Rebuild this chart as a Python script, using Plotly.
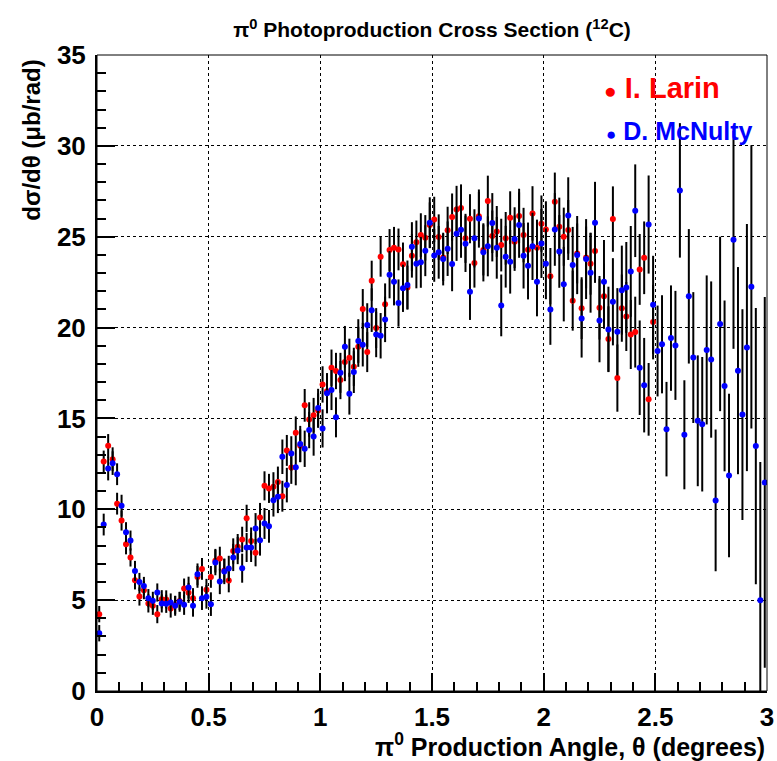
import plotly.graph_objects as go

# Bin centres (degrees), 0.02 deg bins
angle = [
    0.01, 0.03, 0.05, 0.07, 0.09, 0.11, 0.13, 0.15, 0.17, 0.19,
    0.21, 0.23, 0.25, 0.27, 0.29, 0.31, 0.33, 0.35, 0.37, 0.39,
    0.41, 0.43, 0.45, 0.47, 0.49, 0.51, 0.53, 0.55, 0.57, 0.59,
    0.61, 0.63, 0.65, 0.67, 0.69, 0.71, 0.73, 0.75, 0.77, 0.79,
    0.81, 0.83, 0.85, 0.87, 0.89, 0.91, 0.93, 0.95, 0.97, 0.99,
    1.01, 1.03, 1.05, 1.07, 1.09, 1.11, 1.13, 1.15, 1.17, 1.19,
    1.21, 1.23, 1.25, 1.27, 1.29, 1.31, 1.33, 1.35, 1.37, 1.39,
    1.41, 1.43, 1.45, 1.47, 1.49, 1.51, 1.53, 1.55, 1.57, 1.59,
    1.61, 1.63, 1.65, 1.67, 1.69, 1.71, 1.73, 1.75, 1.77, 1.79,
    1.81, 1.83, 1.85, 1.87, 1.89, 1.91, 1.93, 1.95, 1.97, 1.99,
    2.01, 2.03, 2.05, 2.07, 2.09, 2.11, 2.13, 2.15, 2.17, 2.19,
    2.21, 2.23, 2.25, 2.27, 2.29, 2.31, 2.33, 2.35, 2.37, 2.39,
    2.41, 2.43, 2.45, 2.47, 2.49, 2.51, 2.53, 2.55, 2.57, 2.59,
    2.61, 2.63, 2.65, 2.67, 2.69, 2.71, 2.73, 2.75, 2.77, 2.79,
    2.81, 2.83, 2.85, 2.87, 2.89, 2.91, 2.93, 2.95, 2.97, 2.99,
]

larin = [
    4.23, 12.63, 13.49, 12.76, 10.31, 9.38, 8.07, 7.35, 6.09, 5.20,
    5.55, 4.82, 4.69, 4.23, 5.05, 5.04, 4.54, 4.73, 4.95, 5.64,
    5.40, 5.11, 6.28, 6.72, 5.57, 6.28, 7.17, 7.29, 6.63, 6.08,
    7.70, 7.94, 8.34, 9.50, 8.25, 7.61, 9.55, 11.29, 11.15, 11.24,
    11.50, 10.72, 13.24, 12.30, 14.21, 13.50, 15.72, 14.94, 15.18, 15.43,
    16.87, 16.49, 17.79, 17.61, 17.11, 18.10, 18.34, 17.84, 18.94, 21.02,
    18.65, 22.58, 19.97, 23.90, 21.28, 24.27, 24.39, 24.30, 23.48, 22.21,
    23.95, 24.69, 25.09, 24.94, 25.64, 25.95, 24.98, 23.86, 25.35, 26.08,
    26.50, 26.58, 24.91, 25.99, 23.55, 26.12, 24.27, 26.96, 25.04, 25.29,
    24.54, 24.91, 26.05, 24.72, 26.14, 25.09, 24.28, 26.28, 24.39, 25.72,
    25.40, 22.83, 26.93, 25.55, 25.00, 25.37, 21.48, 24.08, 21.07, 23.86,
    23.51, 24.21, 21.09, 21.73, 19.37, 25.97, 17.22, 21.07, 20.61, 19.62,
    19.75, 23.20, 23.84, 16.05, 20.30,
]
larin_err = [
    0.45, 0.6, 0.65, 0.65, 0.6, 0.55, 0.55, 0.5, 0.5, 0.5,
    0.5, 0.5, 0.5, 0.5, 0.5, 0.5, 0.5, 0.5, 0.5, 0.55,
    0.55, 0.55, 0.6, 0.6, 0.6, 0.6, 0.65, 0.65, 0.65, 0.65,
    0.7, 0.7, 0.7, 0.75, 0.75, 0.75, 0.8, 0.8, 0.8, 0.8,
    0.85, 0.85, 0.85, 0.9, 0.9, 0.9, 0.9, 0.95, 0.95, 0.95,
    1.0, 1.0, 1.0, 1.0, 1.05, 1.05, 1.05, 1.05, 1.1, 1.1,
    1.1, 1.1, 1.1, 1.1, 1.15, 1.15, 1.15, 1.15, 1.2, 1.2,
    1.2, 1.2, 1.2, 1.25, 1.25, 1.25, 1.25, 1.3, 1.3, 1.3,
    1.3, 1.3, 1.35, 1.35, 1.35, 1.35, 1.4, 1.4, 1.4, 1.4,
    1.45, 1.45, 1.45, 1.45, 1.5, 1.5, 1.5, 1.5, 1.55, 1.55,
    1.55, 1.55, 1.6, 1.6, 1.6, 1.65, 1.65, 1.65, 1.7, 1.7,
    1.7, 1.75, 1.75, 1.8, 1.8, 1.8, 1.85, 1.85, 1.9, 1.9,
    1.95, 1.95, 2.0, 2.0, 2.05,
]

mcnulty = [
    3.18, 9.16, 12.24, 12.54, 11.93, 10.20, 8.74, 8.28, 6.61, 6.00,
    5.78, 5.11, 4.96, 5.42, 4.82, 4.80, 4.87, 4.69, 4.91, 4.74,
    5.69, 4.69, 6.42, 5.11, 5.18, 4.78, 7.07, 6.03, 6.58, 6.74,
    7.35, 7.73, 6.76, 7.90, 7.90, 8.94, 8.30, 9.22, 9.06, 10.50,
    10.69, 12.89, 11.33, 13.07, 12.32, 13.59, 13.33, 14.36, 14.00, 15.58,
    14.45, 16.38, 16.56, 15.06, 17.51, 18.94, 16.36, 17.55, 19.26, 19.06,
    20.14, 20.96, 19.62, 19.55, 20.45, 22.91, 22.52, 21.35, 22.16, 22.34,
    24.45, 23.51, 23.59, 24.23, 25.77, 23.97, 24.14, 23.77, 24.34, 23.50,
    25.17, 25.39, 24.61, 21.97, 24.91, 26.00, 24.14, 24.47, 25.75, 24.39,
    21.22, 23.90, 23.62, 24.87, 25.64, 23.95, 23.40, 24.47, 22.52, 24.63,
    23.51, 21.00, 25.40, 24.19, 22.39, 26.17, 23.44, 23.99, 20.50, 23.77,
    23.02, 25.77, 20.39, 22.52, 19.90, 21.42, 19.77, 22.06, 22.21, 23.09,
    26.43, 17.79, 16.83, 25.67, 21.25, 18.71, 19.08, 14.41, 19.42, 19.02,
    27.55, 14.10, 21.72, 18.35, 14.87, 14.68, 18.77, 18.24, 10.49, 20.20,
    16.79, 11.86, 24.83, 17.63, 15.21, 18.90, 22.24, 13.48, 5.00, 11.48,
]
mcnulty_err = [
    0.45, 0.6, 0.65, 0.65, 0.6, 0.6, 0.55, 0.55, 0.55, 0.5,
    0.5, 0.5, 0.5, 0.5, 0.5, 0.5, 0.5, 0.55, 0.55, 0.55,
    0.6, 0.6, 0.6, 0.65, 0.65, 0.65, 0.7, 0.7, 0.7, 0.7,
    0.75, 0.75, 0.8, 0.8, 0.8, 0.85, 0.85, 0.85, 0.9, 0.9,
    0.9, 0.95, 0.95, 0.95, 1.0, 1.0, 1.0, 1.0, 1.05, 1.05,
    1.05, 1.1, 1.1, 1.1, 1.1, 1.15, 1.15, 1.15, 1.2, 1.2,
    1.2, 1.2, 1.25, 1.25, 1.25, 1.3, 1.3, 1.3, 1.3, 1.35,
    1.35, 1.35, 1.4, 1.4, 1.4, 1.45, 1.45, 1.45, 1.5, 1.5,
    1.5, 1.55, 1.55, 1.55, 1.6, 1.6, 1.6, 1.65, 1.65, 1.7,
    1.7, 1.7, 1.75, 1.75, 1.8, 1.8, 1.85, 1.85, 1.9, 1.9,
    1.95, 1.95, 2.0, 2.0, 2.05, 2.1, 2.1, 2.15, 2.15, 2.2,
    2.2, 2.25, 2.3, 2.3, 2.35, 2.4, 2.4, 2.45, 2.5, 2.5,
    2.55, 2.6, 2.6, 2.7, 2.7, 2.5, 2.7, 2.6, 2.9, 3.0,
    3.7, 3.0, 3.7, 3.6, 3.6, 3.7, 4.1, 4.3, 3.9, 4.8,
    4.7, 4.5, 6.0, 5.7, 5.8, 6.8, 7.8, 7.6, 7.6, 10.2,
]

x_ticks = [0, 0.5, 1, 1.5, 2, 2.5, 3]
x_ticklabels = ["0", "0.5", "1", "1.5", "2", "2.5", "3"]
y_ticks = [0, 5, 10, 15, 20, 25, 30, 35]
y_ticklabels = ["0", "5", "10", "15", "20", "25", "30", "35"]

FONT = "Liberation Sans, Arial, sans-serif"

fig = go.Figure()
fig.add_trace(go.Scatter(
    x=angle[:len(larin)], y=larin, mode="markers", name="I. Larin",
    marker=dict(color="#ff0000", size=6, line=dict(width=0)),
    error_y=dict(type="data", array=larin_err, color="black", thickness=2, width=0),
))
fig.add_trace(go.Scatter(
    x=angle, y=mcnulty, mode="markers", name="D. McNulty",
    marker=dict(color="#0000ff", size=6, line=dict(width=0)),
    error_y=dict(type="data", array=mcnulty_err, color="black", thickness=2, width=0),
))

axis_common = dict(
    showline=True, linecolor="black", linewidth=2, mirror=False,
    ticks="inside", ticklen=18, tickwidth=2, tickcolor="black",
    showgrid=True, gridcolor="black", griddash="dot", gridwidth=1,
    zeroline=False, automargin=False,
    tickfont=dict(family=FONT, size=26, color="black", weight="bold"),
)

fig.update_xaxes(
    range=[0, 3], tickvals=x_ticks, ticktext=x_ticklabels,
    minor=dict(ticks="inside", ticklen=9, tickwidth=2, tickcolor="black", dtick=0.1, showgrid=False),
    ticklabelstandoff=2,
    **axis_common,
)
fig.update_yaxes(
    range=[0, 35], tickvals=y_ticks, ticktext=y_ticklabels,
    minor=dict(ticks="inside", ticklen=9, tickwidth=2, tickcolor="black", dtick=1, showgrid=False),
    ticklabelstandoff=4,
    **axis_common,
)

fig.add_shape(type="rect", xref="paper", yref="paper", x0=0, y0=0, x1=1, y1=1,
              line=dict(color="black", width=1), layer="above")

fig.update_layout(
    width=777, height=761,
    margin=dict(l=97, r=10, t=55, b=70, autoexpand=False),
    paper_bgcolor="white", plot_bgcolor="white",
    showlegend=False,
    font=dict(family=FONT, color="black"),
    title=dict(
        text="π<sup>0</sup> Photoproduction Cross Section (<sup>12</sup>C)",
        x=0.5, xref="paper", xanchor="center",
        y=1 - 30 / 761, yref="container", yanchor="middle",
        font=dict(family=FONT, size=21, color="black", weight="bold"),
    ),
    annotations=[
        dict(text="dσ/dθ (μb/rad)", textangle=-90, xref="paper", yref="paper",
             x=-0.097, y=0.995, xanchor="center", yanchor="top", showarrow=False,
             font=dict(family=FONT, size=24, color="black", weight="bold")),
        dict(text="π<sup>0</sup> Production Angle, θ (degrees)", xref="paper", yref="paper",
             x=1.0, y=-0.085, xanchor="right", yanchor="middle", showarrow=False,
             font=dict(family=FONT, size=25, color="black", weight="bold")),
        dict(text="<span style='font-size:21px'>●</span> I. Larin", xref="paper", yref="paper",
             x=0.754, y=0.948, xanchor="left", yanchor="middle", showarrow=False,
             font=dict(family=FONT, size=29, color="#ff0000", weight="bold")),
        dict(text="<span style='font-size:17px'>●</span> D. McNulty", xref="paper", yref="paper",
             x=0.756, y=0.880, xanchor="left", yanchor="middle", showarrow=False,
             font=dict(family=FONT, size=25, color="#0000ff", weight="bold")),
    ],
)

fig.write_html("out.html")
